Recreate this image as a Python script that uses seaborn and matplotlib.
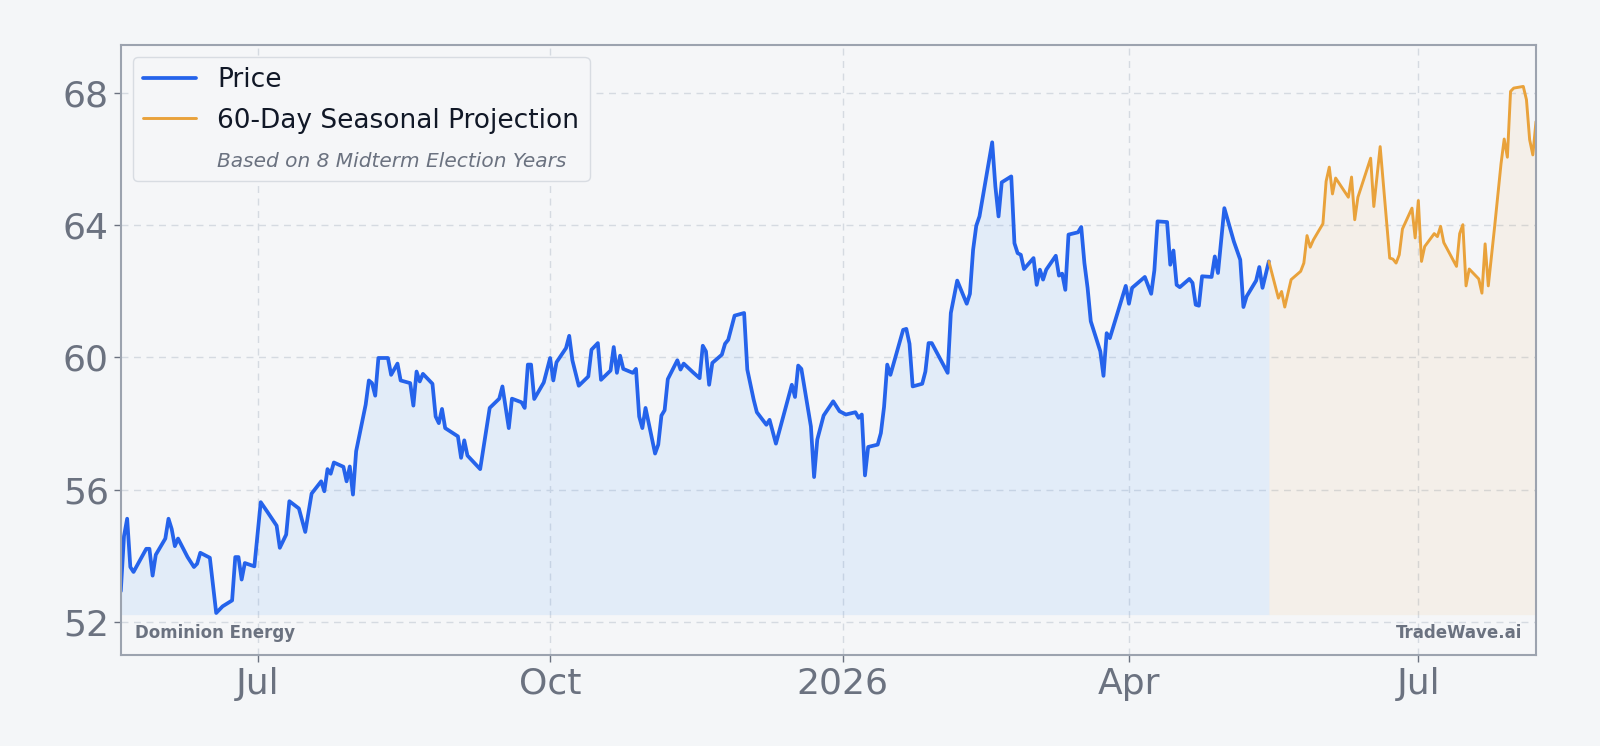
import pandas as pd
import numpy as np

import seaborn as sns
import matplotlib.pyplot as plt
from matplotlib.lines import Line2D


# Dominion Energy daily close
price_dates = [
    "2025-05-19", "2025-05-20", "2025-05-21", "2025-05-22", "2025-05-23", "2025-05-27", "2025-05-28",
    "2025-05-29", "2025-05-30", "2025-06-02", "2025-06-03", "2025-06-04", "2025-06-05", "2025-06-06",
    "2025-06-09", "2025-06-11", "2025-06-12", "2025-06-13", "2025-06-16", "2025-06-18", "2025-06-20",
    "2025-06-23", "2025-06-24", "2025-06-25", "2025-06-26", "2025-06-27", "2025-06-30", "2025-07-02",
    "2025-07-04", "2025-07-07", "2025-07-08", "2025-07-10", "2025-07-11", "2025-07-14", "2025-07-16",
    "2025-07-18", "2025-07-21", "2025-07-22", "2025-07-23", "2025-07-24", "2025-07-25", "2025-07-28",
    "2025-07-29", "2025-07-30", "2025-07-31", "2025-08-01", "2025-08-04", "2025-08-05", "2025-08-06",
    "2025-08-07", "2025-08-08", "2025-08-11", "2025-08-12", "2025-08-14", "2025-08-15", "2025-08-18",
    "2025-08-19", "2025-08-20", "2025-08-21", "2025-08-22", "2025-08-25", "2025-08-26", "2025-08-27",
    "2025-08-28", "2025-08-29", "2025-09-02", "2025-09-03", "2025-09-04", "2025-09-05", "2025-09-09",
    "2025-09-12", "2025-09-15", "2025-09-16", "2025-09-18", "2025-09-19", "2025-09-22", "2025-09-23",
    "2025-09-24", "2025-09-25", "2025-09-26", "2025-09-29", "2025-10-01", "2025-10-02", "2025-10-03",
    "2025-10-06", "2025-10-07", "2025-10-08", "2025-10-10", "2025-10-13", "2025-10-14", "2025-10-16",
    "2025-10-17", "2025-10-20", "2025-10-21", "2025-10-22", "2025-10-23", "2025-10-24", "2025-10-27",
    "2025-10-28", "2025-10-29", "2025-10-30", "2025-10-31", "2025-11-03", "2025-11-04", "2025-11-05",
    "2025-11-06", "2025-11-07", "2025-11-10", "2025-11-11", "2025-11-12", "2025-11-15", "2025-11-17",
    "2025-11-18", "2025-11-19", "2025-11-20", "2025-11-21", "2025-11-24", "2025-11-25", "2025-11-26",
    "2025-11-28", "2025-12-01", "2025-12-02", "2025-12-04", "2025-12-05", "2025-12-08", "2025-12-09",
    "2025-12-11", "2025-12-16", "2025-12-17", "2025-12-18", "2025-12-19", "2025-12-22", "2025-12-23",
    "2025-12-24", "2025-12-26", "2025-12-29", "2025-12-31", "2026-01-02", "2026-01-05", "2026-01-06",
    "2026-01-07", "2026-01-08", "2026-01-09", "2026-01-12", "2026-01-13", "2026-01-14", "2026-01-15",
    "2026-01-16", "2026-01-20", "2026-01-21", "2026-01-22", "2026-01-23", "2026-01-26", "2026-01-27",
    "2026-01-28", "2026-01-29", "2026-02-03", "2026-02-04", "2026-02-06", "2026-02-09", "2026-02-10",
    "2026-02-11", "2026-02-12", "2026-02-13", "2026-02-17", "2026-02-18", "2026-02-19", "2026-02-20",
    "2026-02-23", "2026-02-24", "2026-02-25", "2026-02-26", "2026-02-27", "2026-03-02", "2026-03-03",
    "2026-03-04", "2026-03-05", "2026-03-06", "2026-03-09", "2026-03-10", "2026-03-11", "2026-03-12",
    "2026-03-13", "2026-03-16", "2026-03-17", "2026-03-18", "2026-03-19", "2026-03-20", "2026-03-23",
    "2026-03-24", "2026-03-25", "2026-03-26", "2026-03-31", "2026-04-01", "2026-04-02", "2026-04-06",
    "2026-04-08", "2026-04-09", "2026-04-10", "2026-04-13", "2026-04-14", "2026-04-15", "2026-04-16",
    "2026-04-17", "2026-04-20", "2026-04-21", "2026-04-22", "2026-04-23", "2026-04-24", "2026-04-27",
    "2026-04-28", "2026-04-29", "2026-05-01", "2026-05-04", "2026-05-05", "2026-05-06", "2026-05-07",
    "2026-05-08", "2026-05-11", "2026-05-12", "2026-05-13", "2026-05-15",
]
price_values = [
    52.93, 54.59, 55.12, 53.66, 53.51, 54.21, 54.21,
    53.40, 54.03, 54.52, 55.12, 54.81, 54.29, 54.52,
    53.96, 53.66, 53.76, 54.09, 53.94, 52.27, 52.47,
    52.65, 53.96, 53.96, 53.28, 53.78, 53.68, 55.62,
    55.34, 54.91, 54.24, 54.64, 55.65, 55.43, 54.72,
    55.88, 56.25, 55.95, 56.62, 56.48, 56.82, 56.69,
    56.25, 56.70, 55.85, 57.16, 58.57, 59.30, 59.22,
    58.84, 59.98, 59.98, 59.47, 59.81, 59.30, 59.22,
    58.54, 59.57, 59.27, 59.50, 59.20, 58.21, 58.01,
    58.44, 57.86, 57.61, 56.96, 57.49, 57.03, 56.62,
    58.47, 58.75, 59.12, 57.86, 58.75, 58.64, 58.47,
    59.78, 59.78, 58.74, 59.24, 59.98, 59.30, 59.85,
    60.28, 60.65, 59.91, 59.14, 59.42, 60.23, 60.43,
    59.32, 59.60, 60.31, 59.53, 60.05, 59.65, 59.53,
    59.65, 58.21, 57.86, 58.47, 57.09, 57.36, 58.24,
    58.40, 59.34, 59.91, 59.63, 59.81, 59.54, 59.37,
    60.35, 60.18, 59.17, 59.83, 60.08, 60.41, 60.53,
    61.26, 61.34, 59.63, 58.72, 58.34, 57.96, 58.11,
    57.39, 59.17, 58.80, 59.75, 59.65, 57.91, 56.38,
    57.51, 58.24, 58.67, 58.37, 58.27, 58.34, 58.17,
    58.27, 56.43, 57.29, 57.36, 57.71, 58.50, 59.78,
    59.47, 60.83, 60.86, 60.41, 59.12, 59.20, 59.57,
    60.43, 60.43, 59.53, 61.34, 62.32, 61.62, 61.92,
    63.25, 63.98, 64.26, 66.50, 65.17, 64.26, 65.29,
    65.47, 63.45, 63.15, 63.10, 62.67, 63.00, 62.19,
    62.65, 62.35, 62.65, 63.07, 62.47, 62.53, 62.04,
    63.71, 63.78, 63.94, 62.85, 62.10, 61.09, 60.18,
    59.44, 60.73, 60.58, 62.16, 61.62, 62.10, 62.43,
    61.92, 62.63, 64.11, 64.09, 62.80, 63.23, 62.19,
    62.12, 62.37, 62.25, 61.59, 61.56, 62.45, 62.43,
    63.05, 62.55, 64.51, 63.50, 63.23, 62.95, 61.52,
    61.84, 62.32, 62.73, 62.10, 62.90,
]

# 60-day seasonal projection
proj_dates = [
    "2026-05-15", "2026-05-18", "2026-05-19", "2026-05-20", "2026-05-22", "2026-05-25", "2026-05-26",
    "2026-05-27", "2026-05-28", "2026-05-29", "2026-06-01", "2026-06-02", "2026-06-03", "2026-06-04",
    "2026-06-05", "2026-06-09", "2026-06-10", "2026-06-11", "2026-06-12", "2026-06-16", "2026-06-17",
    "2026-06-19", "2026-06-22", "2026-06-23", "2026-06-24", "2026-06-25", "2026-06-26", "2026-06-29",
    "2026-06-30", "2026-07-01", "2026-07-02", "2026-07-03", "2026-07-06", "2026-07-07", "2026-07-08",
    "2026-07-09", "2026-07-13", "2026-07-14", "2026-07-15", "2026-07-16", "2026-07-17", "2026-07-20",
    "2026-07-21", "2026-07-22", "2026-07-23", "2026-07-25", "2026-07-27", "2026-07-28", "2026-07-29",
    "2026-07-30", "2026-07-31", "2026-08-03", "2026-08-04", "2026-08-05", "2026-08-06", "2026-08-07",
]
proj_values = [
    62.90, 61.79, 61.99, 61.52, 62.35, 62.60, 62.85,
    63.68, 63.33, 63.55, 64.04, 65.32, 65.75, 64.94,
    65.42, 64.84, 65.45, 64.16, 64.84, 66.02, 64.56,
    66.37, 63.00, 62.97, 62.85, 63.10, 63.88, 64.51,
    63.61, 64.74, 62.90, 63.35, 63.74, 63.65, 63.96,
    63.47, 62.75, 63.74, 64.01, 62.16, 62.67, 62.37,
    61.94, 63.43, 62.16, 63.96, 65.85, 66.60, 66.05,
    68.04, 68.14, 68.19, 67.79, 66.58, 66.12, 67.13,
]

tick_dates = ["2025-07-01", "2025-10-01", "2026-01-01", "2026-04-01", "2026-07-01"]
tick_labels = ["Jul", "Oct", "2026", "Apr", "Jul"]
y_ticks = [52, 56, 60, 64, 68]

price = pd.DataFrame({"date": pd.to_datetime(price_dates), "value": price_values})
proj = pd.DataFrame({"date": pd.to_datetime(proj_dates), "value": proj_values})

BLUE = "#2563eb"
ORANGE = "#e9a23b"
GRAY = "#6b7280"
BG = "#f4f6f8"

sns.set_theme(style="whitegrid")
plt.rcParams["font.family"] = ["DejaVu Sans"]

fig, ax = plt.subplots(figsize=(16, 7.46), dpi=100)
fig.patch.set_facecolor(BG)
ax.set_facecolor("#f5f6f8")
fig.subplots_adjust(left=0.0755, right=0.96, top=0.94, bottom=0.122)

base = min(price["value"].min(), proj["value"].min()) - 0.05
ax.fill_between(price["date"], price["value"], base, color="#60a5fa", alpha=0.12, linewidth=0)
ax.fill_between(proj["date"], proj["value"], base, color=ORANGE, alpha=0.08, linewidth=0)

sns.lineplot(data=price, x="date", y="value", ax=ax, color=BLUE, linewidth=2.7, label="Price")
sns.lineplot(data=proj, x="date", y="value", ax=ax, color=ORANGE, linewidth=2.1,
             label="60-Day Seasonal Projection")

ax.set_xlim(price["date"].min(), proj["date"].max())
ax.set_ylim(51.0, 69.45)
ax.set_xticks(pd.to_datetime(tick_dates))
ax.set_xticklabels(tick_labels)
ax.set_yticks(y_ticks)
ax.set_xlabel("")
ax.set_ylabel("")
ax.tick_params(axis="both", labelsize=26, colors=GRAY, length=5, width=1, left=True, bottom=True)
ax.tick_params(axis="both", labelcolor=GRAY)

ax.grid(True, linestyle=(0, (5, 4)), color="#d5dae1", linewidth=1.0)
for s in ax.spines.values():
    s.set_color("#9ca3af")
    s.set_linewidth(1.5)

handles, labels = ax.get_legend_handles_labels()
handles.append(Line2D([], [], color="none"))
labels.append("Based on 8 Midterm Election Years")
leg = ax.legend(handles, labels, loc="upper left", fontsize=19, frameon=True,
                facecolor="#f5f6f8", edgecolor="#d8dce2", framealpha=1.0,
                borderaxespad=0.45, labelspacing=0.55)
leg.get_frame().set_linewidth(1.0)
for t in leg.get_texts():
    t.set_color("#111827")
sub = leg.get_texts()[2]
sub.set_fontstyle("italic")
sub.set_color(GRAY)
sub.set_fontsize(14.5)

ax.text(0.01, 0.022, "Dominion Energy", transform=ax.transAxes, fontsize=12,
        fontweight="bold", color=GRAY, ha="left", va="bottom")
ax.text(0.99, 0.022, "TradeWave.ai", transform=ax.transAxes, fontsize=12,
        fontweight="bold", color=GRAY, ha="right", va="bottom")

plt.savefig("out.png", dpi=100, facecolor=fig.get_facecolor())
plt.close()
